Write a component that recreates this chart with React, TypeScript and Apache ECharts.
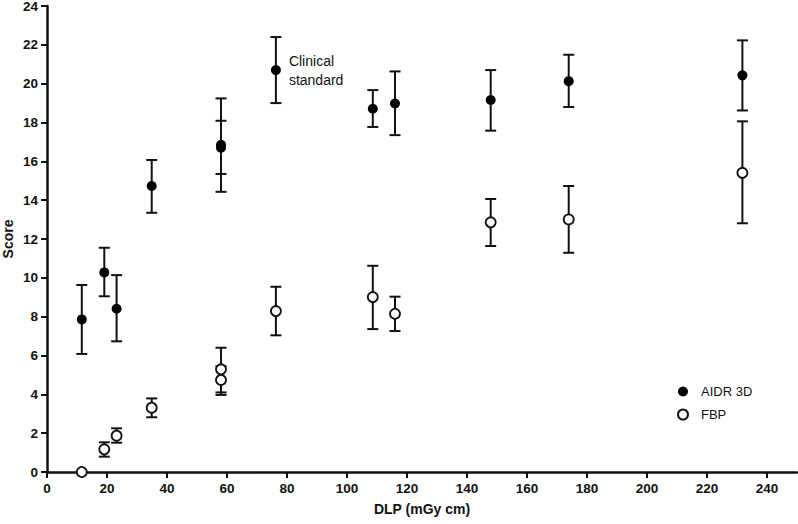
import React, { useEffect, useRef } from "react";
import * as echarts from "echarts";

const aidrX = [11.6, 19.1, 23.2, 34.9, 58, 58, 76.3, 108.6, 116, 147.9, 173.9, 231.8];
const aidrY = [7.86, 10.28, 8.41, 14.73, 16.85, 16.7, 20.7, 18.71, 18.98, 19.16, 20.13, 20.43];
const aidrLow = [6.08, 9.05, 6.73, 13.35, 14.43, 15.35, 19.0, 17.77, 17.35, 17.58, 18.8, 18.62];
const aidrHigh = [9.63, 11.55, 10.14, 16.07, 19.24, 18.09, 22.4, 19.67, 20.63, 20.7, 21.49, 22.23];

const fbpX = [11.6, 19.1, 23.2, 34.9, 58, 58, 76.3, 108.6, 116, 147.9, 173.9, 231.8];
const fbpY = [0, 1.17, 1.87, 3.31, 5.29, 4.74, 8.29, 9.01, 8.15, 12.86, 13.01, 15.41];
const fbpLow = [0, 0.79, 1.51, 2.82, 4.1, 3.97, 7.04, 7.36, 7.26, 11.64, 11.29, 12.81];
const fbpHigh = [0, 1.53, 2.25, 3.79, 6.4, 5.45, 9.54, 10.62, 9.03, 14.06, 14.73, 18.06];

const clinicalIndex = 6;
const FONT = "'Liberation Sans', Arial, Helvetica, sans-serif";

function errorRender(params: any, api: any) {
  const x = api.value(0);
  const lo = api.coord([x, api.value(1)]);
  const hi = api.coord([x, api.value(2)]);
  const hw = 5.5;
  const style = { stroke: "#111", lineWidth: 2 };
  return {
    type: "group",
    children: [
      { type: "line", shape: { x1: lo[0], y1: lo[1], x2: hi[0], y2: hi[1] }, style },
      { type: "line", shape: { x1: hi[0] - hw, y1: hi[1], x2: hi[0] + hw, y2: hi[1] }, style },
      { type: "line", shape: { x1: lo[0] - hw, y1: lo[1], x2: lo[0] + hw, y2: lo[1] }, style },
    ],
  };
}

export default function App() {
  const ref = useRef<HTMLDivElement>(null);
  useEffect(() => {
    if (!ref.current) return;
    const chart = echarts.init(ref.current, undefined, { renderer: "svg" });
    const aidrErr = aidrX.map((x, i) => [x, aidrLow[i], aidrHigh[i]]);
    const fbpErr = fbpX
      .map((x, i) => [x, fbpLow[i], fbpHigh[i]])
      .filter((d) => d[2] > d[1]);
    const aidrData = aidrX.map((x, i) =>
      i === clinicalIndex
        ? {
            value: [x, aidrY[i]],
            label: {
              show: true,
              position: "right",
              distance: 8,
              formatter: "Clinical\nstandard",
              color: "#111",
              fontFamily: FONT,
              fontSize: 14,
              lineHeight: 19,
              align: "left",
            },
          }
        : [x, aidrY[i]]
    );
    chart.setOption({
      animation: false,
      textStyle: { fontFamily: FONT },
      grid: { left: 47, right: 1, top: 6, bottom: 52, containLabel: false, outerBoundsMode: "none" },
      legend: {
        orient: "vertical",
        left: 672,
        top: 380,
        itemWidth: 20,
        itemHeight: 10,
        itemGap: 10,
        data: ["AIDR 3D", "FBP"],
        textStyle: { fontFamily: FONT, fontSize: 13, color: "#111", padding: [0, 0, 0, 3] },
      },
      xAxis: {
        type: "value",
        min: 0,
        max: 250,
        interval: 20,
        name: "DLP (mGy cm)",
        nameLocation: "middle",
        nameGap: 30,
        nameMoveOverlap: false,
        nameTextStyle: { fontFamily: FONT, fontSize: 14, fontWeight: "bold", color: "#111" },
        axisLine: { show: true, lineStyle: { color: "#111", width: 2.5 } },
        axisTick: { show: true, length: 6, lineStyle: { color: "#111", width: 2 } },
        axisLabel: {
          margin: 9,
          fontFamily: FONT,
          fontSize: 13.5,
          fontWeight: "bold",
          color: "#111",
          showMaxLabel: false,
        },
        splitLine: { show: false },
      },
      yAxis: {
        type: "value",
        min: 0,
        max: 24,
        interval: 2,
        name: "Score",
        nameLocation: "middle",
        nameGap: 32,
        nameMoveOverlap: false,
        nameTextStyle: { fontFamily: FONT, fontSize: 14, fontWeight: "bold", color: "#111" },
        axisLine: { show: true, lineStyle: { color: "#111", width: 2.5 } },
        axisTick: { show: true, length: 6, lineStyle: { color: "#111", width: 2 } },
        axisLabel: { margin: 9, fontFamily: FONT, fontSize: 13.5, fontWeight: "bold", color: "#111" },
        splitLine: { show: false },
      },
      series: [
        {
          name: "AIDR 3D err",
          type: "custom",
          renderItem: errorRender,
          data: aidrErr,
          encode: { x: 0, y: [1, 2] },
          z: 1,
          silent: true,
        },
        {
          name: "FBP err",
          type: "custom",
          renderItem: errorRender,
          data: fbpErr,
          encode: { x: 0, y: [1, 2] },
          z: 1,
          silent: true,
        },
        {
          name: "AIDR 3D",
          type: "scatter",
          symbol: "circle",
          symbolSize: 10,
          itemStyle: { color: "#000", borderColor: "#000", borderWidth: 0, opacity: 1 },
          data: aidrData,
          z: 3,
          clip: false,
        },
        {
          name: "FBP",
          type: "scatter",
          symbol: "circle",
          symbolSize: 10,
          itemStyle: { color: "#fff", borderColor: "#111", borderWidth: 1.8, opacity: 1 },
          data: fbpX.map((x, i) => [x, fbpY[i]]),
          z: 3,
          clip: false,
        },
      ],
    });
    return () => chart.dispose();
  }, []);
  return <div ref={ref} style={{ width: 798, height: 524, position: "absolute", left: 0, top: 0 }} />;
}
